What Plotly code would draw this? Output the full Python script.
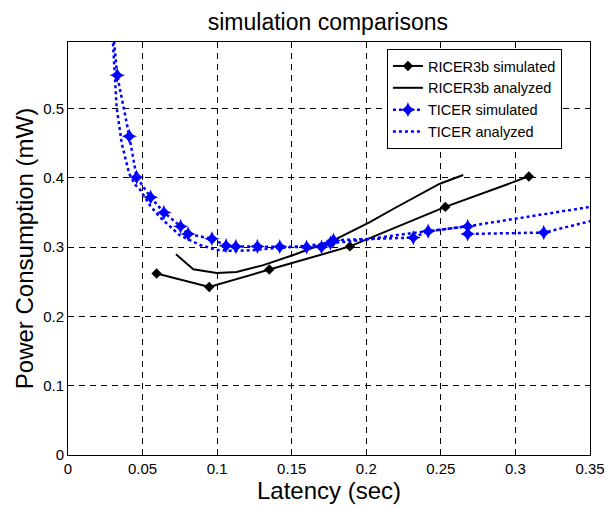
import plotly.graph_objects as go

# RICER3b simulated
ricer_sim_x = [0.0594, 0.0947, 0.135, 0.189, 0.253, 0.309]
ricer_sim_y = [0.262, 0.2425, 0.2676, 0.301, 0.358, 0.402]

# RICER3b analyzed
ricer_ana_x = [0.0724, 0.084, 0.0997, 0.113, 0.131, 0.153, 0.180, 0.2024, 0.218, 0.2493, 0.265]
ricer_ana_y = [0.2896, 0.268, 0.2627, 0.264, 0.274, 0.290, 0.312, 0.336, 0.355, 0.3915, 0.404]

# TICER simulated
ticer_sim_x = [0.029, 0.033, 0.0411, 0.046, 0.0554, 0.0643, 0.0755, 0.0805, 0.0965, 0.106,
               0.1125, 0.127, 0.142, 0.160, 0.170, 0.176, 0.178, 0.2315, 0.2415, 0.268,
               0.268, 0.319, 0.38]
ticer_sim_y = [0.64, 0.548, 0.460, 0.401, 0.372, 0.350, 0.330, 0.319, 0.312, 0.302,
               0.301, 0.301, 0.3005, 0.300, 0.300, 0.306, 0.310, 0.3137, 0.323, 0.330,
               0.319, 0.321, 0.353]

# TICER analyzed
ticer_ana_x = [0.0295, 0.0305, 0.0315, 0.0326, 0.036, 0.041, 0.045, 0.0483, 0.055, 0.0617,
               0.075, 0.0885, 0.0997, 0.111, 0.124, 0.135, 0.15, 0.17, 0.2, 0.2225,
               0.245, 0.268, 0.30, 0.35]
ticer_ana_y = [0.62, 0.58, 0.54, 0.502, 0.45, 0.406, 0.39, 0.383, 0.36, 0.343,
               0.317, 0.303, 0.296, 0.2945, 0.2955, 0.298, 0.300, 0.304, 0.311, 0.318,
               0.324, 0.330, 0.341, 0.358]

x_ticks = [0, 0.05, 0.1, 0.15, 0.2, 0.25, 0.3, 0.35]
x_tick_text = ["0", "0.05", "0.1", "0.15", "0.2", "0.25", "0.3", "0.35"]
y_ticks = [0, 0.1, 0.2, 0.3, 0.4, 0.5]
y_tick_text = ["0", "0.1", "0.2", "0.3", "0.4", "0.5"]

FONT = "Liberation Sans, Arial, sans-serif"

fig = go.Figure()
fig.add_trace(go.Scatter(
    x=ricer_sim_x, y=ricer_sim_y, mode="lines+markers", name="RICER3b simulated",
    line=dict(color="black", width=2),
    marker=dict(symbol="diamond", size=8, color="black")))
fig.add_trace(go.Scatter(
    x=ricer_ana_x, y=ricer_ana_y, mode="lines", name="RICER3b analyzed",
    line=dict(color="black", width=2)))
fig.add_trace(go.Scatter(
    x=ticer_sim_x, y=ticer_sim_y, mode="lines+markers", name="TICER simulated",
    line=dict(color="blue", width=2.5, dash="dot"),
    marker=dict(symbol="star-diamond", size=11, color="blue")))
fig.add_trace(go.Scatter(
    x=ticer_ana_x, y=ticer_ana_y, mode="lines", name="TICER analyzed",
    line=dict(color="blue", width=2.5, dash="dot")))

axis_common = dict(
    showline=True, linecolor="black", linewidth=1, mirror="ticks",
    ticks="inside", ticklen=5, tickcolor="black",
    showgrid=True, gridcolor="black", gridwidth=1, griddash="6px,5px",
    zeroline=False, automargin=False,
    tickfont=dict(family=FONT, size=15, color="black"),
)

# The page body has an 8px margin, so the figure is sized 8px smaller.
fig.update_layout(
    width=607, height=500,
    margin=dict(l=60, r=25, t=34, b=53),
    paper_bgcolor="white", plot_bgcolor="white",
    title=dict(text="simulation comparisons", x=0.527, xanchor="center", y=0.972, yanchor="middle",
               font=dict(family=FONT, size=23, color="black")),
    xaxis=dict(range=[0, 0.35], tickvals=x_ticks, ticktext=x_tick_text,
               title=dict(text="Latency (sec)", font=dict(family=FONT, size=24, color="black"), standoff=4),
               **axis_common),
    yaxis=dict(range=[0, 0.596], tickvals=y_ticks, ticktext=y_tick_text,
               title=dict(text="Power Consumption (mW)", font=dict(family=FONT, size=24, color="black"), standoff=2),
               **axis_common),
    legend=dict(x=0.611, y=0.983, xanchor="left", yanchor="top",
                bgcolor="white", bordercolor="black", borderwidth=1,
                font=dict(family=FONT, size=14.5, color="black"),
                tracegroupgap=0, itemwidth=30),
    showlegend=True,
)

fig.write_html("out.html")
